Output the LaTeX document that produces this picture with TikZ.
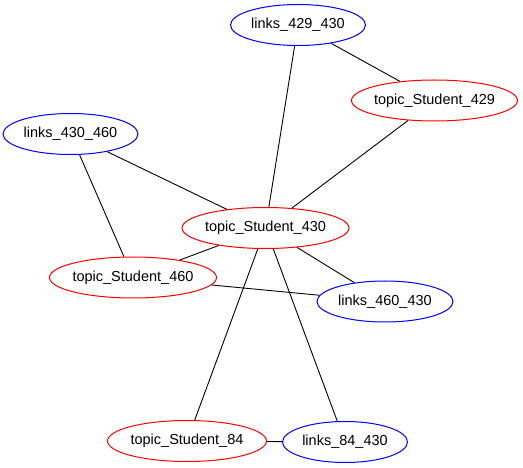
\documentclass[tikz,border=0pt]{standalone}
\usepackage{fontspec}
\setmainfont{Liberation Sans}
\usetikzlibrary{shapes.geometric}
\begin{document}
\begin{tikzpicture}[x=1pt,y=-1pt,
  nd/.style={ellipse,draw,line width=1pt,inner xsep=-30pt,inner ysep=0pt,minimum height=41pt,font=\fontsize{14.5}{17}\selectfont},
  red/.style={nd,draw=red},
  blue/.style={nd,draw=blue},
  edge/.style={draw=black,line width=0.9pt}]
\useasboundingbox (0,0) rectangle (523,468);
\node[blue,minimum width=135pt] (l429) at (298,25) {links\_429\_430};
\node[red,minimum width=166pt] (t429) at (434.5,100.5) {topic\_Student\_429};
\node[blue,minimum width=135pt] (l460) at (70.5,134) {links\_430\_460};
\node[red,minimum width=167pt] (t430) at (265.5,228) {topic\_Student\_430};
\node[red,minimum width=167pt] (t460) at (133,277.5) {topic\_Student\_460};
\node[blue,minimum width=136pt] (l460430) at (385,301.5) {links\_460\_430};
\node[red,minimum width=159pt] (t84) at (187,441) {topic\_Student\_84};
\node[blue,minimum width=125pt] (l84) at (345,442) {links\_84\_430};
\draw[edge] (l429) -- (t430);
\draw[edge] (l429) -- (t429);
\draw[edge] (t429) -- (t430);
\draw[edge] (l460) -- (t430);
\draw[edge] (l460) -- (t460);
\draw[edge] (t430) -- (t460);
\draw[edge] (t430) -- (l460430);
\draw[edge] (t460) -- (l460430);
\draw[edge] (t430) -- (t84);
\draw[edge] (t430) -- (l84);
\draw[edge] (t84) -- (l84);
\end{tikzpicture}
\end{document}
